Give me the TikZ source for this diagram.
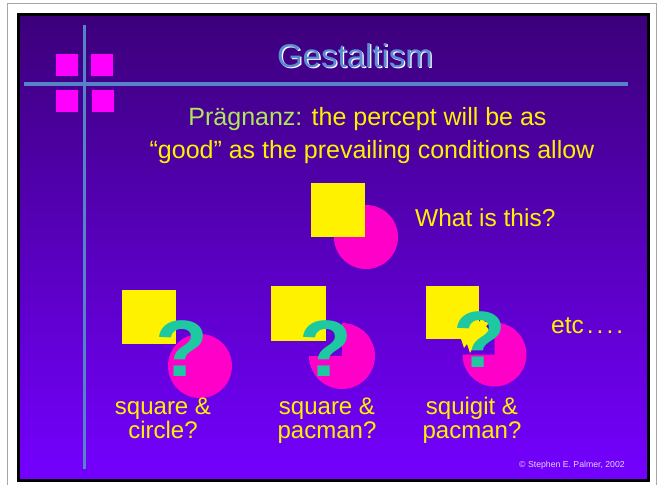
\documentclass[tikz,border=0pt]{standalone}
\usepackage{fontspec}
\setmainfont{Liberation Sans}
\definecolor{bgtop}{RGB}{60,0,122}
\definecolor{bgbot}{RGB}{116,0,255}
\definecolor{lineblue}{RGB}{84,132,200}
\definecolor{sqmag}{RGB}{255,0,255}
\definecolor{cpink}{RGB}{255,0,200}
\definecolor{qteal}{RGB}{30,200,160}
\definecolor{lgreen}{RGB}{175,230,90}
\definecolor{ttlblue}{RGB}{90,140,210}
\definecolor{copyc}{RGB}{225,215,255}
\tikzset{
  bodytext/.style={inner sep=0pt, text=yellow, font=\fontsize{24.5}{26}\selectfont},
  labeltext/.style={inner sep=0pt, anchor=base, text=yellow, font=\fontsize{24}{24}\selectfont},
  qmark/.style={inner sep=0pt, anchor=base, text=qteal, xscale=1.08, font=\bfseries\fontsize{80}{80}\selectfont},
  decosq/.style={fill=sqmag},
}
\begin{document}
\begin{tikzpicture}[x=1pt,y=-1pt]
\useasboundingbox (0,0) rectangle (663,485);
\fill[white] (0,0) rectangle (663,485);
\draw[gray!70, line width=1.5pt] (7.5,485) -- (7.5,3.5) -- (656.5,3.5) -- (656.5,485);
% slide
\shade[top color=bgtop, bottom color=bgbot] (18.5,14.5) rectangle (648.5,480);
\draw[black, line width=3pt] (18.5,14.5) rectangle (648.5,480);
% decoration
\draw[lineblue, line width=3pt] (84,25) -- (84,469);
\draw[lineblue, line width=3.5pt] (24,84) -- (628,84);
\fill[decosq] (56,54) rectangle (78,76);
\fill[decosq] (91,54) rectangle (113,76);
\fill[decosq] (56,90) rectangle (78,112);
\fill[decosq] (92,90) rectangle (114,112);
% title
\node[anchor=base, inner sep=0pt, text=white, font=\fontsize{33}{36}\selectfont] (titleshadow) at (356.3,68.3) {Gestaltism};
\node[anchor=base, inner sep=0pt, text=ttlblue, font=\fontsize{33}{36}\selectfont] (title) at (355,67) {Gestaltism};
% statement
\node[bodytext, anchor=base, font=\fontsize{25}{28}\selectfont] (line1) at (367.5,125) {\textcolor{lgreen}{Prägnanz:} the percept will be as};
\node[bodytext, anchor=base, font=\fontsize{25}{28}\selectfont] (line2) at (372,158) {“good” as the prevailing conditions allow};
% main figure
\fill[cpink] (366,237) circle[radius=32];
\fill[yellow] (311,183) rectangle (365,237);
\node[bodytext, anchor=base west] (what) at (415,226) {What is this?};
% figure 1
\fill[cpink] (200,366) circle[radius=32];
\fill[yellow] (122,290) rectangle (176,344);
\node[qmark] (q1) at (182,376) {?};
% figure 2
\fill[cpink] (342,356) -- ++(0,-33) arc[start angle=-90, end angle=180, radius=33] -- cycle;
\fill[yellow] (271,286) rectangle (326,341);
\node[qmark] (q2) at (326,376) {?};
% figure 3
\fill[cpink] (494.5,354.5) -- ++(0,-32) arc[start angle=-90, end angle=180, radius=32] -- cycle;
\fill[yellow] (426,286) rectangle (479,339);
\fill[yellow] (461,339) -- (464,348) -- (467,344) -- (470,353) -- (474,345) -- (477,349) -- (480,340)
  -- (486,338) -- (489,330) -- (486,326) -- (491,321) -- (485,322) -- (482,318) -- (479,322) -- (479,339) -- cycle;
\node[qmark] (q3) at (480,367) {?};
% labels
\node[labeltext] (lab1a) at (163,414) {square \&};
\node[labeltext] (lab1b) at (163,438) {circle?};
\node[labeltext] (lab2a) at (327,414) {square \&};
\node[labeltext] (lab2b) at (327,438) {pacman?};
\node[labeltext] (lab3a) at (472,414) {squigit \&};
\node[labeltext] (lab3b) at (472,438) {pacman?};
\node[bodytext, anchor=base west] (etc) at (551,333) {etc\hspace{3pt}.\hspace{3pt}.\hspace{3pt}.\hspace{3pt}.};
% copyright
\node[anchor=base west, inner sep=0pt, text=copyc, font=\fontsize{8.7}{10}\selectfont] (copy) at (519,467) {© Stephen E. Palmer, 2002};
\end{tikzpicture}
\end{document}
